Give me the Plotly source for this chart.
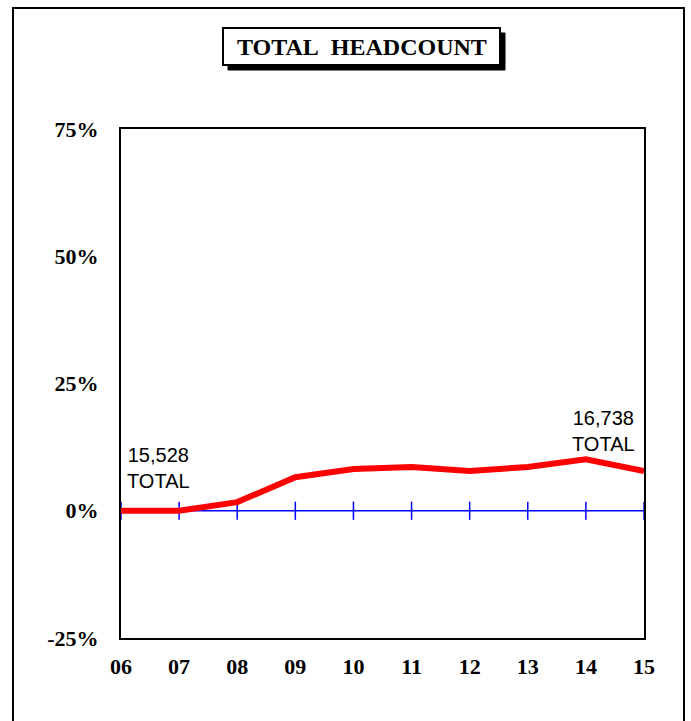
import plotly.graph_objects as go

years = ["06", "07", "08", "09", "10", "11", "12", "13", "14", "15"]
growth_pct = [0.0, 0.0, 1.7, 6.6, 8.2, 8.6, 7.8, 8.6, 10.1, 7.8]
baseline = [0, 0, 0, 0, 0, 0, 0, 0, 0, 0]
y_ticks = [-25, 0, 25, 50, 75]
y_tick_text = ["<b>-25%</b>", "<b>0%</b>", "<b>25%</b>", "<b>50%</b>", "<b>75%</b>"]
x_tick_text = ["<b>" + y + "</b>" for y in years]
start_label = "15,528<br>TOTAL"
end_label = "16,738<br>TOTAL"
title_text = "TOTAL\u00a0 HEADCOUNT"

W, H = 691, 721
L, R, T, B = 121, 644, 129, 638
pw, ph = R - L, B - T

def px(x):
    return (x - L) / pw

def py(y):
    return (B - y) / ph

fig = go.Figure()
fig.add_trace(go.Scatter(
    x=years, y=baseline, mode="lines+markers",
    line=dict(color="#0000FF", width=1.5),
    marker=dict(symbol="line-ns", size=13, line=dict(color="#0000FF", width=1.5)),
    cliponaxis=False, hoverinfo="skip", showlegend=False))
fig.add_trace(go.Scatter(
    x=years, y=growth_pct, mode="lines",
    line=dict(color="#FF0000", width=6),
    showlegend=False))

axis_font = dict(family="Liberation Serif", size=22, color="black")
fig.update_xaxes(type="category", range=[0, len(years) - 1], showgrid=False,
                 tickvals=years, ticktext=x_tick_text,
                 zeroline=False, showline=True, mirror=True, linecolor="black",
                 linewidth=2, ticks="", tickfont=axis_font, ticklabelstandoff=8)
fig.update_yaxes(range=[-25, 75], tickvals=y_ticks, ticktext=y_tick_text,
                 showgrid=False, zeroline=False, showline=True, mirror=True,
                 linecolor="black", linewidth=2, ticks="", tickfont=axis_font,
                 ticklabelstandoff=16)

shapes = [
    dict(type="rect", xref="paper", yref="paper", x0=px(13), x1=px(684),
         y0=py(740), y1=py(8), line=dict(color="black", width=2), layer="below"),
    dict(type="rect", xref="paper", yref="paper", x0=px(228), x1=px(505),
         y0=py(70), y1=py(33), fillcolor="black", line=dict(color="black", width=1)),
    dict(type="rect", xref="paper", yref="paper", x0=px(223), x1=px(500),
         y0=py(65), y1=py(28), fillcolor="white", line=dict(color="black", width=2)),
]

annotations = [
    dict(xref="paper", yref="paper", x=px(361.5), y=py(47), text="<b>" + title_text + "</b>",
         showarrow=False, font=dict(family="Liberation Serif", size=24, color="black"),
         xanchor="center", yanchor="middle"),
    dict(xref="paper", yref="paper", x=px(158), y=py(468), text=start_label,
         showarrow=False, font=dict(family="Liberation Sans", size=20, color="black"),
         xanchor="center", yanchor="middle", align="center"),
    dict(xref="paper", yref="paper", x=px(603), y=py(431), text=end_label,
         showarrow=False, font=dict(family="Liberation Sans", size=20, color="black"),
         xanchor="center", yanchor="middle", align="center"),
]

fig.update_layout(width=W, height=H, margin=dict(l=L, r=W - R, t=T, b=H - B, pad=0),
                  paper_bgcolor="white", plot_bgcolor="white",
                  shapes=shapes, annotations=annotations, showlegend=False)

fig.write_html("out.html", config={"displayModeBar": False},
               post_script="document.body.style.margin='0';")
